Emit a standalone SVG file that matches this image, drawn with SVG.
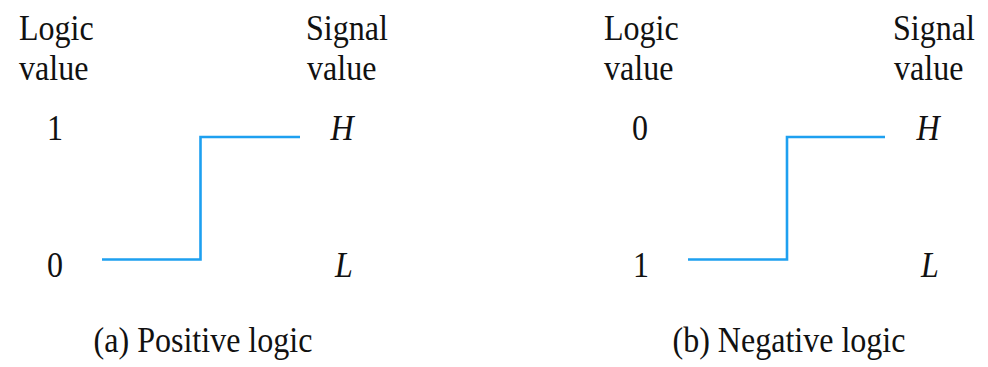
<svg xmlns="http://www.w3.org/2000/svg" width="988" height="367" viewBox="0 0 988 367">
  <style>
    .t { font-family: "Liberation Serif", "Times New Roman", serif; font-size: 36px; fill: #111; }
    .i { font-style: italic; }
    .m { text-anchor: middle; }
    .wave { fill: none; stroke: #1ea0f0; stroke-width: 2.6; stroke-linejoin: miter; }
  </style>
  <rect width="988" height="367" fill="#ffffff"/>

  <!-- (a) positive logic; type is set slightly narrow (scaleX 0.89) -->
  <g id="positive">
    <g id="pos-labels">
      <text class="t" transform="translate(19 40) scale(0.89 1)">Logic</text>
      <text class="t" transform="translate(19 80) scale(0.89 1)">value</text>
      <text class="t" transform="translate(306 40) scale(0.89 1)">Signal</text>
      <text class="t" transform="translate(307 80) scale(0.89 1)">value</text>
      <text class="t m" transform="translate(55 140) scale(0.89 1)">1</text>
      <text class="t m" transform="translate(55 277) scale(0.89 1)">0</text>
      <text class="t i m" transform="translate(342 140) scale(0.89 1)">H</text>
      <text class="t i m" transform="translate(344 277) scale(0.89 1)">L</text>
      <text class="t m" transform="translate(203 352) scale(0.89 1)">(a) Positive logic</text>
    </g>
    <g id="pos-wave">
      <path class="wave" d="M102 259.5 H200.5 V137 H300"/>
    </g>
  </g>

  <!-- (b) negative logic -->
  <g id="negative">
    <g id="neg-labels">
      <text class="t" transform="translate(604 40) scale(0.89 1)">Logic</text>
      <text class="t" transform="translate(604 80) scale(0.89 1)">value</text>
      <text class="t" transform="translate(893 40) scale(0.89 1)">Signal</text>
      <text class="t" transform="translate(894 80) scale(0.89 1)">value</text>
      <text class="t m" transform="translate(640 140) scale(0.89 1)">0</text>
      <text class="t m" transform="translate(641 277) scale(0.89 1)">1</text>
      <text class="t i m" transform="translate(928 140) scale(0.89 1)">H</text>
      <text class="t i m" transform="translate(930 277) scale(0.89 1)">L</text>
      <text class="t m" transform="translate(789 352) scale(0.89 1)">(b) Negative logic</text>
    </g>
    <g id="neg-wave">
      <path class="wave" d="M688 259.5 H787 V137 H885"/>
    </g>
  </g>
</svg>
